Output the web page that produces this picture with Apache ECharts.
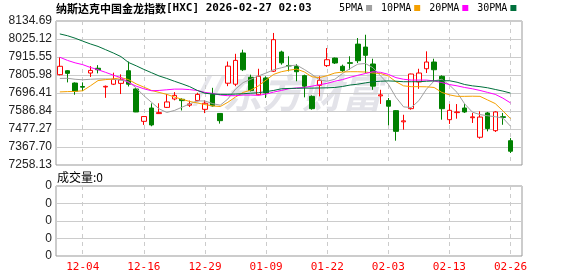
<!DOCTYPE html>
<html><head><meta charset="utf-8">
<script src="https://cdn.jsdelivr.net/npm/echarts@6/dist/echarts.min.js"></script>
<style>html,body{margin:0;padding:0;background:#fff}#c{width:578px;height:276px}</style>
</head><body><div id="c"></div>
<script>
const dates = ['12-01','12-02','12-03','12-04','12-05','12-08','12-09','12-10','12-11','12-12','12-15','12-16','12-17','12-18','12-19','12-22','12-23','12-24','12-26','12-29','12-30','12-31',
'01-02','01-05','01-06','01-07','01-08','01-09','01-12','01-13','01-14','01-15','01-16','01-20','01-21','01-22','01-23','01-26','01-27','01-28','01-29','01-30',
'02-02','02-03','02-04','02-05','02-06','02-09','02-10','02-11','02-12','02-13','02-17','02-18','02-19','02-20','02-23','02-24','02-25','02-26'];
const tickLabels = ['12-04','12-16','12-29','01-09','01-22','02-03','02-13','02-26'];

const open  = [7808,7832,7757,7736,7818,7847,7733,7750,7755,7832,7721,7524,7605,7571,7609,7660,7658,7622,7651,7597,7688,7572,7756,7750,7940,7792,7686,7788,7829,7946,7864,7858,7802,7676,7743,7863,7909,7859,7881,7994,7976,7873,7679,7650,7589,7521,7601,7764,7844,7885,7798,7534,7577,7605,7546,7427,7575,7467,7552,7406];
const close = [7859,7816,7707,7732,7834,7838,7737,7780,7777,7750,7581,7553,7502,7577,7642,7682,7650,7630,7688,7634,7618,7528,7860,7895,7838,7711,7798,7697,8021,7880,7861,7826,7738,7601,7774,7899,7879,7833,7877,7893,7926,7738,7685,7616,7463,7527,7812,7818,7885,7838,7601,7591,7581,7581,7551,7550,7480,7581,7548,7342];
const low   = [7804,7761,7686,7708,7794,7816,7667,7745,7690,7736,7580,7502,7494,7569,7605,7652,7590,7611,7646,7574,7614,7510,7738,7738,7830,7706,7682,7666,7824,7869,7828,7768,7670,7595,7676,7855,7873,7824,7838,7879,7818,7716,7630,7500,7406,7473,7595,7722,7818,7768,7534,7508,7540,7575,7514,7418,7463,7459,7503,7331];
const high  = [7913,7836,7761,7761,7860,7866,7742,7820,7810,7888,7725,7555,7633,7634,7690,7702,7664,7650,7698,7652,7728,7574,7888,7935,7960,7808,7844,7798,8062,7954,7920,7872,7808,7682,7798,7970,7912,7869,7920,8031,8051,7905,7716,7666,7592,7564,7814,7844,7950,7905,7804,7629,7629,7629,7575,7585,7581,7585,7575,7422];

const ma5  = [7785,7786,7780,7777,7780,7782,7782,7780,7775,7765,7727,7680,7640,7600,7578,7590,7610,7630,7648,7648,7632,7622,7660,7720,7760,7780,7800,7818,7838,7850,7862,7866,7840,7810,7776,7768,7780,7815,7845,7872,7876,7850,7800,7750,7670,7612,7608,7650,7720,7770,7780,7745,7700,7630,7580,7565,7558,7552,7544,7494];
const ma10 = [7703,7705,7706,7710,7740,7772,7778,7782,7790,7778,7752,7732,7712,7700,7688,7672,7658,7645,7636,7626,7618,7614,7640,7672,7700,7714,7740,7775,7810,7826,7835,7842,7825,7795,7790,7802,7818,7824,7826,7826,7824,7818,7815,7800,7765,7740,7735,7735,7734,7730,7700,7685,7676,7676,7677,7676,7654,7632,7588,7540];
const ma20 = [7914,7895,7880,7869,7852,7838,7822,7805,7790,7760,7738,7722,7710,7712,7716,7720,7720,7717,7712,7700,7694,7684,7680,7680,7684,7684,7682,7690,7702,7712,7722,7727,7730,7738,7747,7755,7768,7778,7792,7804,7815,7826,7822,7810,7790,7780,7775,7775,7775,7770,7760,7748,7740,7730,7722,7712,7700,7688,7665,7636];
const ma30 = [8056,8045,8030,8012,7995,7980,7960,7940,7918,7882,7862,7840,7820,7800,7785,7768,7752,7735,7712,7695,7690,7688,7688,7690,7692,7695,7698,7705,7712,7722,7724,7725,7726,7726,7727,7728,7730,7736,7745,7750,7758,7765,7768,7770,7768,7765,7765,7765,7768,7770,7771,7771,7762,7748,7740,7735,7728,7718,7708,7696];
const volume = [0,0,0,0,0,0,0,0,0,0,0,0,0,0,0,0,0,0,0,0,0,0,0,0,0,0,0,0,0,0,0,0,0,0,0,0,0,0,0,0,0,0,0,0,0,0,0,0,0,0,0,0,0,0,0,0,0,0,0,0];

const priceMin = 7258.13, priceMax = 8134.69, priceStep = 109.57;

const mono = '"DejaVu Sans Mono","Liberation Mono",monospace';
const sans = '"Liberation Sans",Arial,sans-serif';
const cjk = '"Noto Sans CJK SC",sans-serif';
const isTick = (i, v) => tickLabels.indexOf(v) >= 0;

const chart = echarts.init(document.getElementById('c'));
const candles = dates.map((d, i) => [open[i], close[i], low[i], high[i]]);

chart.setOption({
  animation: false,
  backgroundColor: '#fff',
  title: [{
    left: 56, top: 3, padding: 0,
    text: '{c|纳斯达克中国金龙指数}{a|[HXC] 2026-02-27 02:03}',
    textStyle: { rich: {
      c: { fontFamily: cjk, fontSize: 11, color: '#000' },
      a: { fontFamily: mono, fontSize: 11, color: '#000' }
    } }
  }, {
    left: 57, top: 171, padding: 0,
    text: '成交量:0',
    textStyle: { fontFamily: cjk, fontSize: 12, fontWeight: 'normal', color: '#000' }
  }],
  legend: {
    data: ['5PMA', '10PMA', '20PMA', '30PMA'],
    left: 339, top: 3, padding: 0,
    icon: 'rect', itemWidth: 6, itemHeight: 6, align: 'right', itemGap: 9,
    selectedMode: false,
    textStyle: { fontFamily: mono, fontSize: 10, color: '#000', padding: [0, -2, 0, 0] }
  },
  graphic: [{
    type: 'text', left: 222, top: 73, z: 0, silent: true,
    style: { text: '东方财富', font: 'italic bold 40px "Noto Sans CJK SC"', fill: '#e3e3e9' }
  }, {
    type: 'text', left: 196, top: 73, z: 0, silent: true,
    style: { text: '//', font: 'italic bold 38px "DejaVu Sans"', fill: '#e6e6ec' }
  }],
  grid: [
    { left: 56, right: 56, top: 21, height: 144, show: true, borderColor: '#999', borderWidth: 1 },
    { left: 56, right: 56, top: 186, height: 70, show: true, borderColor: '#999', borderWidth: 1 }
  ],
  xAxis: [{
    type: 'category', gridIndex: 0, data: dates, max: dates.length, boundaryGap: true,
    axisLine: { show: false }, axisTick: { show: false }, axisLabel: { show: false },
    splitLine: { show: true, interval: isTick, alignWithLabel: true, lineStyle: { color: '#ccc', type: [4, 4] } }
  }, {
    type: 'category', gridIndex: 1, data: dates, max: dates.length, boundaryGap: true,
    axisLine: { show: false }, axisTick: { show: false },
    axisLabel: { interval: isTick, color: '#f00', fontFamily: mono, fontSize: 11, margin: 6, alignWithLabel: true },
    splitLine: { show: true, interval: isTick, alignWithLabel: true, lineStyle: { color: '#ccc', type: [4, 4] } }
  }],
  yAxis: [{
    type: 'value', gridIndex: 0, min: priceMin, max: priceMax, interval: priceStep,
    axisLine: { show: false }, axisTick: { show: false },
    axisLabel: { formatter: v => v.toFixed(2), color: '#222', fontFamily: sans, fontSize: 12, margin: 4 },
    splitLine: { lineStyle: { color: '#ccc' } }
  }, {
    type: 'value', gridIndex: 1, min: 0, max: 4, interval: 1,
    axisLine: { show: false }, axisTick: { show: false },
    axisLabel: { formatter: () => '0', color: '#222', fontFamily: sans, fontSize: 12, margin: 4 },
    splitLine: { lineStyle: { color: '#ccc' } }
  }],
  series: [{
    type: 'candlestick', name: 'K', xAxisIndex: 0, yAxisIndex: 0, data: candles, barWidth: 5,
    itemStyle: { color: '#fff', color0: '#008000', borderColor: '#f00', borderColor0: '#008000', borderWidth: 1 }
  },
  { type: 'line', name: '5PMA', data: ma5, symbol: 'none', lineStyle: { width: 1, color: '#a0a0a0' }, itemStyle: { color: '#a0a0a0' } },
  { type: 'line', name: '10PMA', data: ma10, symbol: 'none', lineStyle: { width: 1, color: '#f5a000' }, itemStyle: { color: '#f5a000' } },
  { type: 'line', name: '20PMA', data: ma20, symbol: 'none', lineStyle: { width: 1, color: '#ff00ff' }, itemStyle: { color: '#ff00ff' } },
  { type: 'line', name: '30PMA', data: ma30, symbol: 'none', lineStyle: { width: 1, color: '#00703c' }, itemStyle: { color: '#00703c' } },
  { type: 'bar', name: '成交量', xAxisIndex: 1, yAxisIndex: 1, data: volume }
  ]
});
</script></body></html>
